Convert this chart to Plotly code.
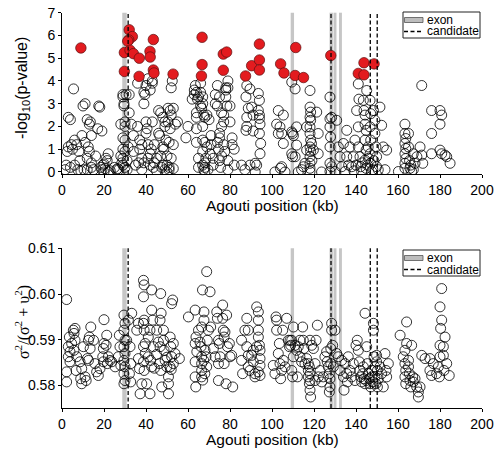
import plotly.graph_objects as go

# exon spans (kb) and candidate sites (kb)
exon_start = [28.7, 108.9, 127.4, 129.3, 131.9]
exon_end = [30.8, 110.5, 129.0, 130.7, 133.3]
candidates = [31.5, 128.1, 146.8, 150.1]

# top panel: -log10(p-value), significant sites
sig_x = [9, 29.7, 29.7, 32, 33.5, 31.8, 31.3, 32.4, 34, 36.8, 36.7, 41.9, 42, 43.5, 43.5,
         43.8, 52.9, 66.7, 66.7, 66.4, 76.8, 76.8, 78.4, 87.4, 90.3, 94, 94, 94, 104.1,
         105.7, 111.3, 111, 115, 128, 141.1, 143.8, 143.8, 148.6]
sig_y = [5.45, 5.25, 4.42, 6.25, 5.95, 5.8, 5.75, 5.35, 5.2, 5.0, 4.2, 5.3, 5.05, 5.82, 4.48,
         4.35, 4.3, 5.92, 4.72, 4.22, 4.47, 5.18, 5.27, 4.22, 4.67, 5.62, 4.92, 4.48, 4.75,
         4.35, 5.47, 4.24, 4.15, 5.12, 4.33, 4.27, 4.8, 4.75]

# top panel: other sites (kb, -log10 p)
pval_pts = [
    (1.5, 0.1), (2, 0.3), (2.5, 0.9), (3, 1.1), (3, 2.4), (4, 2.3), (4, 0.2), (4.5, 1.2), (5, 1.0),
    (5.5, 3.65), (6, 1.4), (6, 0.3), (7, 1.2), (7.5, 0.1), (8, 0.9), (8.5, 0.5), (9, 0.05), (9.5, 1.6),
    (10, 2.9), (10.5, 0.1), (11, 3.0), (11, 1.3), (12, 0.6), (12, 2.3), (13, 2.1), (13, 0.9),
    (13.5, 2.2), (14, 1.6), (14, 0.4), (14, 0.2), (12.5, 1.1), (12, 0.1), (15, 0.1), (16, 0.7),
    (17, 1.9), (17.5, 2.9), (18, 2.85), (19, 1.8), (18.5, 0.2), (19, 0.1), (19.5, 0.3), (20, 0.35),
    (20, 0.0), (20.5, 0.15), (21, 0.6), (21.5, 0.5), (22, 0.8), (22, 0.0), (23, 0.05), (25, 0.2),
    (26, 0.1), (26.5, 0.15), (27, 0.1),
    (29, 3.4), (29, 3.3), (29.5, 2.9), (30, 2.2), (28, 2.1), (29, 1.5), (29, 1.0), (30, 0.9),
    (29, 0.6), (28.5, 0.4), (30, 0.2), (28, 0.7), (29.5, 3.0), (30.5, 3.4), (30, 2.0), (31, 0.1),
    (31.5, 1.1), (32, 2.6), (32, 3.4), (30, 1.4), (29, 0.3), (31, 0.5),
    (33, 2.1), (34, 1.6), (34, 0.9), (35, 0.3), (36, 3.9), (36, 2.0), (37, 1.4), (37, 1.0),
    (36.5, 0.4), (38, 0.1), (38, 1.2), (39, 3.0), (39, 3.5), (39.5, 3.4), (40, 3.8), (40, 2.2),
    (40, 1.7), (40.5, 1.9), (41, 4.1), (41, 0.6), (41, 1.2), (42, 0.3), (42, 0.8), (42, 3.6),
    (42.5, 1.0), (43, 4.0), (43, 3.9), (43, 2.2), (43.5, 0.2), (44, 0.4), (44, 1.2), (45, 0.05),
    (45, 0.6), (38, 0.6), (39, 0.4),
    (46, 2.7), (46, 1.7), (46.5, 1.6), (47, 2.6), (47, 0.7), (47.5, 0.2), (48, 0.3), (48, 1.1),
    (48, 2.4), (49, 2.0), (49, 2.2), (49, 0.1), (50, 0.0), (50, 0.3), (50.5, 2.2), (50.5, 2.8),
    (51, 1.3), (51, 0.1), (51, 0.2), (51.5, 1.9), (52, 2.5), (52, 0.6), (52, 3.7), (52.5, 4.0),
    (53, 2.8), (53, 1.2), (53, 0.15), (51.5, 2.7), (54, 2.1), (55, 2.2), (50, 0.7), (49.5, 1.4),
    (48.5, 1.0),
    (59, 1.5), (60, 2.0), (62, 3.2), (63, 3.4), (63, 3.6), (63.5, 3.8), (64, 3.5), (64, 2.6),
    (64, 2.4), (64.5, 3.2), (65, 3.3), (64, 1.9), (64, 1.3), (65, 0.6), (65, 0.2), (66, 3.9),
    (66, 3.5), (66, 2.9), (66.5, 2.8), (67, 3.3), (67, 3.0), (67.5, 2.5), (67, 2.0), (67, 1.4),
    (67, 0.9), (67, 0.3), (67.5, 0.1), (68, 0.2), (68, 0.4), (68, 0.0), (68.5, 0.6), (68, 1.3),
    (68, 2.4), (69, 2.5), (69, 1.1), (69.5, 0.1), (70, 2.3), (70.5, 0.8), (71, 1.2), (72, 0.6),
    (72, 0.3), (71, 1.6),
    (73, 3.4), (73, 3.0), (74, 3.8), (74, 2.9), (75, 3.3), (75, 1.5), (75, 1.7), (74, 1.3),
    (74.5, 1.0), (75, 0.5), (75.5, 0.2), (76, 0.7), (76, 2.6), (77, 2.5), (77, 2.2), (77, 1.2),
    (77.5, 0.9), (78, 3.7), (78, 3.6), (78, 3.3), (78.5, 2.9), (79, 4.0), (79, 3.7), (79, 0.5),
    (79, 0.1), (80, 2.9), (81, 1.2), (81, 1.5), (82, 0.3), (82, 1.0), (80, 2.2), (76, 2.0),
    (88, 3.8), (89.5, 3.65), (87.6, 3.3), (88.7, 2.8), (88, 2.4), (88, 2.0), (87.6, 1.83),
    (90.3, 2.85), (91, 2.5), (91, 1.8), (93.5, 3.45), (94, 3.15), (93.5, 2.7), (94, 2.5),
    (94, 2.35), (94.3, 2.1), (94, 1.69), (94.6, 1.25), (94.3, 0.8), (92, 0.38), (92, 0.0),
    (92.7, 0.3), (89.5, 0.3), (87.1, 0.1), (85.5, 0.3),
    (101.4, 0.0), (102.2, 2.1), (103, 1.69), (103, 2.7), (103.8, 1.98), (105.4, 2.5), (104.6, 1.69),
    (105.4, 1.25), (104.6, 0.23), (106.2, 0.0), (104, 0.16),
    (109.4, 1.76), (109.8, 1.69), (110.2, 1.6), (109.4, 0.8), (109.8, 0.67), (111, 0.67),
    (109.4, 3.95), (111, 3.65), (111.7, 1.98), (112.5, 0.0), (114.1, 0.1), (115, 0.23), (111.7, 1.18),
    (118.1, 3.58), (118.1, 2.85), (118.4, 2.63), (118.1, 2.4), (118.4, 2.27), (118.1, 1.98),
    (118.1, 1.69), (118.4, 1.4), (118.1, 1.1), (118.4, 0.9), (118.1, 0.67), (118.1, 0.38),
    (118.1, 0.16), (118.1, 0.02), (116.5, 0.96), (119.7, 0.96), (121.3, 2.63), (122, 1.69),
    (122, 0.8), (123.6, 0.0), (115.7, 0.38), (116.5, 1.98), (119, 0.5), (118.8, 1.25),
    (127.6, 3.29), (127.6, 2.34), (128.4, 2.4), (127.6, 1.98), (127.9, 1.54), (127.6, 1.1),
    (127.6, 0.38), (128.4, 0.23), (127.6, 0.02), (130, 0.02), (130.8, 2.27), (131.6, 1.1),
    (132.4, 0.67), (133.2, 0.23), (134, 1.25), (134.8, 0.02), (135.6, 0.67), (135.6, 1.83),
    (137.1, 1.1), (138, 0.23), (138.7, 0.67), (139.5, 1.4), (140.3, 2.7), (141.1, 3.87),
    (141.4, 3.2), (141.1, 1.98), (141.1, 1.1), (141.9, 0.67), (142.2, 0.23), (142.7, 0.02),
    (143.5, 3.15), (143.8, 2.7), (144.3, 2.5), (144.3, 2.1), (144.8, 1.83), (144.3, 1.4),
    (144.8, 0.96), (144.3, 0.52), (144.8, 0.16), (145.1, 3.58), (146.7, 3.15), (147, 2.56),
    (146.7, 1.98), (147, 1.4), (146.7, 0.8), (147, 0.38), (147.5, 0.02), (148.3, 2.7), (149, 2.27),
    (149, 1.69), (149.5, 1.1), (149.8, 0.67), (149.8, 0.23), (150.6, 0.1), (151.4, 2.85),
    (152.2, 2.05), (153, 1.1), (153.8, 0.1), (154.6, 0.96), (145.5, 0.3), (146, 0.6), (148, 0.1),
    (143, 0.4), (140, 0.3), (145.8, 1.1), (148.5, 0.5), (136.5, 0.3), (139, 0.05),
    (160.2, 0.02), (163.3, 2.1), (163.3, 1.69), (163.7, 1.47), (163.3, 1.25), (163.7, 1.03),
    (163.3, 0.8), (163.7, 0.59), (163.3, 0.38), (163.3, 0.16), (165, 1.69), (165, 1.1),
    (165.7, 0.16), (166.5, 0.02), (167.3, 0.1), (168.1, 0.38), (167.3, 0.8), (169, 0.67),
    (170.5, 1.1), (171.3, 0.74), (171.3, 3.8), (171.8, 0.38), (176, 2.7), (176, 1.69), (176, 0.8),
    (180, 2.7), (180.8, 2.5), (180, 2.1), (180, 0.96), (180.8, 0.8), (182.4, 0.74), (183.2, 0.67),
    (184.8, 0.38), (165.5, 0.5), (166, 0.3),
]

# bottom panel: sigma^2/(sigma^2 + upsilon^2)
ratio_pts = [
    (2.2, 0.5988), (2.2, 0.5808), (2.2, 0.583), (3, 0.5863), (3, 0.5885), (3.5, 0.5906),
    (3.8, 0.5852), (3.8, 0.5874), (4.6, 0.5892), (5.4, 0.5921), (5.7, 0.5914), (6.2, 0.5925),
    (6.2, 0.5899), (5.7, 0.5877), (7, 0.5863), (6.7, 0.5833), (8.6, 0.5852), (8.9, 0.5815),
    (9.4, 0.5804), (9.4, 0.5837), (10.2, 0.5885), (11, 0.5819), (11.5, 0.5811), (12.1, 0.5859),
    (12.6, 0.5899), (13, 0.5906), (13.4, 0.5881), (12.6, 0.5855), (13.7, 0.5928), (15, 0.5899),
    (15.7, 0.5848), (16.5, 0.583), (17.3, 0.5822), (18.1, 0.5837), (19.4, 0.5863), (19.7, 0.5881),
    (20, 0.5892), (19.7, 0.5852), (20, 0.5944), (21, 0.5888), (21.3, 0.591), (21.6, 0.5848),
    (22.1, 0.5863), (22.9, 0.5855), (23.7, 0.5852), (25.3, 0.5841), (26.8, 0.5863), (27.6, 0.5885),
    (28, 0.5844), (27.3, 0.591),
    (29.5, 0.5954), (30, 0.5936), (29.5, 0.5921), (30, 0.5899), (29.5, 0.5885), (30, 0.587),
    (29.5, 0.5855), (30, 0.5841), (29.5, 0.5826), (30, 0.5811), (29.5, 0.5804), (30.8, 0.5899),
    (31.6, 0.5943), (32.4, 0.5885), (32.7, 0.5848), (33.2, 0.5958), (32.1, 0.5826), (32.7, 0.5808),
    (35.6, 0.5921), (36.4, 0.5936), (36.4, 0.5859), (36.9, 0.5837), (37.2, 0.5782), (38, 0.5804),
    (38.8, 0.603), (39.1, 0.602), (38.8, 0.5994), (39.1, 0.5943), (38.8, 0.5936), (39.1, 0.5921),
    (39.6, 0.5892), (38.8, 0.5885), (39.6, 0.587), (38.8, 0.5852), (39.1, 0.5833), (40.3, 0.5804),
    (41.1, 0.5863), (41.1, 0.5906), (41.9, 0.5921), (42.7, 0.6009), (42.7, 0.5965), (43.2, 0.5943),
    (43.5, 0.5885), (42.2, 0.5855), (42.7, 0.5841), (41.9, 0.5782), (45.1, 0.5921), (45.9, 0.5895),
    (46.7, 0.5885), (47, 0.6001), (47.2, 0.5958), (46.7, 0.5943), (46.4, 0.5848), (47, 0.5833),
    (47.5, 0.5797), (48.3, 0.5921), (48.3, 0.5899), (48.6, 0.5877), (49.1, 0.5855), (49.9, 0.5841),
    (50.7, 0.5819), (50.7, 0.5804), (50.7, 0.5782), (51.5, 0.5906), (51.8, 0.5885), (52.2, 0.5863),
    (52.2, 0.5979), (52.7, 0.5987), (53, 0.5892), (53, 0.5848), (53.8, 0.587), (51.5, 0.5841),
    (55.9, 0.5859), (44, 0.5838), (45, 0.5868), (50, 0.5862), (52, 0.5835),
    (60.2, 0.595), (63.4, 0.5965), (63.4, 0.5892), (63.8, 0.5906), (64.2, 0.5874), (63.4, 0.5852),
    (63.4, 0.5819), (63.7, 0.5797), (65, 0.5921), (65.7, 0.5895), (66.5, 0.5928), (66.2, 0.5885),
    (66.5, 0.5863), (66.5, 0.5848), (66.5, 0.5833), (66.5, 0.5819), (66.9, 0.6009), (67.6, 0.5961),
    (67.6, 0.5943), (68.1, 0.5877), (68.6, 0.5863), (68.9, 0.5841), (68.9, 0.6049), (70.5, 0.6005),
    (69.2, 0.5899), (69.7, 0.5921), (70.8, 0.5928), (72.1, 0.5881), (72.9, 0.5863), (73.7, 0.5961),
    (74, 0.5947), (74.5, 0.5899), (74.5, 0.5848), (74.9, 0.5892), (75.3, 0.5863), (74.5, 0.5811),
    (76.5, 0.5976), (76.5, 0.5947), (76.8, 0.5921), (77.2, 0.5906), (77.6, 0.5917), (77.2, 0.5848),
    (78.1, 0.5804), (78.4, 0.5954), (78.8, 0.5885), (80, 0.5863), (80.8, 0.5866), (81.3, 0.5797),
    (79.7, 0.5892), (67.5, 0.5855), (68, 0.5826), (67, 0.5812),
    (85.5, 0.5899), (85.5, 0.5855), (86, 0.5826), (87.1, 0.5921), (88, 0.5947), (88.7, 0.5921),
    (88, 0.5885), (88.7, 0.5866), (88.7, 0.5841), (89.5, 0.5833), (90.3, 0.5866), (91.1, 0.5877),
    (91.1, 0.5852), (91.9, 0.5826), (91.9, 0.5819), (92.7, 0.5972), (93.5, 0.5961), (93.5, 0.5943),
    (93.5, 0.5921), (93.5, 0.5906), (94, 0.5888), (94.3, 0.5877), (94.3, 0.5859), (94.3, 0.5844),
    (93.5, 0.583), (94.3, 0.5822), (92.7, 0.5885),
    (100.6, 0.5844), (101.4, 0.5826), (101.9, 0.595), (102.2, 0.5921), (102.2, 0.5943),
    (103, 0.587), (103.5, 0.5892), (103.8, 0.5848), (104.1, 0.5815), (104.6, 0.5833),
    (105.1, 0.5921), (105.4, 0.5855), (106.2, 0.5841), (107, 0.5947), (107.8, 0.5899),
    (108.3, 0.5885), (108.6, 0.5899), (108.9, 0.5888), (109.4, 0.5899), (109.4, 0.5833),
    (109.8, 0.5819), (110.2, 0.5928), (110.2, 0.5863), (111, 0.5888), (111.7, 0.5877),
    (112.1, 0.5819), (112.5, 0.5885), (113.3, 0.5899), (113.3, 0.5863), (114.1, 0.5852),
    (114.6, 0.5928), (114.9, 0.5899), (115.2, 0.5881), (115.7, 0.5848), (116.5, 0.5859),
    (117.3, 0.5848), (117.8, 0.5841), (117.3, 0.5833), (118.1, 0.5826), (117.3, 0.5819),
    (118.1, 0.5811), (117.8, 0.5804), (118.1, 0.579), (118.4, 0.5775), (118.1, 0.5899),
    (118.9, 0.5888), (119.7, 0.5881), (120.5, 0.5848), (121, 0.5899), (121.6, 0.5932),
    (120.5, 0.5811), (122.1, 0.5819), (122.9, 0.5833), (123.7, 0.5808), (124.4, 0.5819),
    (125.2, 0.5863), (126, 0.5874), (126.3, 0.5852), (126.8, 0.5841), (127.3, 0.5826),
    (127.6, 0.5815), (127.6, 0.5797), (127.3, 0.5786), (128, 0.5848), (128, 0.5881),
    (128.4, 0.5921), (128.4, 0.5936), (128.9, 0.5888), (129.2, 0.5841), (130, 0.5921),
    (130.8, 0.587), (131.6, 0.5863), (132.4, 0.5833), (133.2, 0.5855), (134, 0.5819),
    (134.3, 0.579), (134.8, 0.5848), (135.6, 0.5826), (135.9, 0.5808), (136.3, 0.5863),
    (137.1, 0.5833), (137.9, 0.5819), (138.7, 0.5848), (139.5, 0.5811), (140, 0.5888),
    (140.6, 0.5899), (141.1, 0.5877), (141.6, 0.5852), (141.9, 0.5833), (142.2, 0.5819),
    (142.7, 0.5808), (143.2, 0.5826), (143.5, 0.5841), (143.8, 0.5815), (144.3, 0.5804),
    (144.8, 0.5811), (144.3, 0.5958), (145.1, 0.5885), (145.4, 0.5848), (145.9, 0.5826),
    (146.4, 0.5815), (146.7, 0.5804), (147, 0.5797), (147.5, 0.5819), (147.5, 0.5833),
    (148, 0.5808), (148.3, 0.5936), (148.3, 0.5921), (148.6, 0.5863), (149, 0.5841),
    (149, 0.5819), (149.5, 0.5804), (149.8, 0.5866), (149.8, 0.5852), (150.2, 0.5833),
    (150.2, 0.5797), (150.6, 0.5815), (151.4, 0.5841), (152.2, 0.5826), (153, 0.5797),
    (153.8, 0.587), (154.3, 0.5833), (154.6, 0.5819), (155.4, 0.5848),
    (161, 0.591), (162.5, 0.5863), (163.3, 0.5877), (163.3, 0.5848), (163.7, 0.5833),
    (163.3, 0.5819), (163.7, 0.5804), (164.1, 0.5939), (164.1, 0.5892), (165, 0.5855),
    (165, 0.5841), (165.4, 0.5826), (165.7, 0.5811), (166.1, 0.5797), (166.5, 0.5888),
    (167, 0.5819), (167.3, 0.5808), (168.1, 0.5815), (168.9, 0.5797), (169.7, 0.5775),
    (169.7, 0.5786), (170.5, 0.5797), (171.3, 0.5866), (172.9, 0.5859), (175.2, 0.5859),
    (175.2, 0.5833), (176, 0.5822), (176.8, 0.5848), (178.4, 0.5826), (179.2, 0.5841),
    (179.7, 0.5819), (180, 0.5863), (180, 0.5888), (180.3, 0.5925), (180.8, 0.5943),
    (180, 0.5972), (180.8, 0.6012), (181.6, 0.5885), (181.9, 0.5833), (182.4, 0.5906),
    (183.2, 0.5848), (184.4, 0.5822), (181.6, 0.5866),
]

x_ticks = [0, 20, 40, 60, 80, 100, 120, 140, 160, 180, 200]
legend_labels = ['exon', 'candidate']
grey = '#c6c6c6'
fnt = 'Liberation Sans, Arial, sans-serif'
dash = '4px,2.5px'

W, H = 494, 450
ML, MT = 62, 12          # plot area = 420 x 396 px


def px(p):
    # screenshot x pixel -> paper x
    return (p - ML) / 420


def py(p):
    # screenshot y pixel -> paper y
    return (396 - (p - MT)) / 396


fig = go.Figure()

open_marker = dict(symbol='circle-open', size=10, color='black', line=dict(width=0.8))
fig.add_trace(go.Scatter(x=[p[0] for p in pval_pts], y=[p[1] for p in pval_pts], mode='markers',
                         marker=open_marker, showlegend=False, xaxis='x', yaxis='y'))
fig.add_trace(go.Scatter(x=sig_x, y=sig_y, mode='markers',
                         marker=dict(symbol='circle', size=10.5, color='#e31b1f',
                                     line=dict(color='#5a1010', width=0.7)),
                         showlegend=False, xaxis='x', yaxis='y'))
fig.add_trace(go.Scatter(x=[p[0] for p in ratio_pts], y=[p[1] for p in ratio_pts], mode='markers',
                         marker=open_marker, showlegend=False, xaxis='x2', yaxis='y2'))

# exon bars and candidate lines in both panels
shapes = []
for xr, yr in [('x', 'y domain'), ('x2', 'y2 domain')]:
    for s, e in zip(exon_start, exon_end):
        shapes.append(dict(type='rect', xref=xr, yref=yr, x0=s, x1=e, y0=0, y1=1,
                           fillcolor=grey, line=dict(width=0), layer='below'))
    for c in candidates:
        shapes.append(dict(type='line', xref=xr, yref=yr, x0=c, x1=c, y0=0, y1=1,
                           line=dict(color='black', width=1.3, dash=dash)))

# hand drawn legend boxes
annotations = []
for top_px in [12, 250]:
    shapes.append(dict(type='rect', xref='paper', yref='paper', x0=px(403), x1=px(480),
                       y0=py(top_px + 26), y1=py(top_px), fillcolor='white',
                       line=dict(color='#222222', width=1)))
    shapes.append(dict(type='rect', xref='paper', yref='paper', x0=px(404.5), x1=px(423),
                       y0=py(top_px + 10.5), y1=py(top_px + 5.5), fillcolor='#bdbdbd',
                       line=dict(color='#555555', width=0.8)))
    shapes.append(dict(type='line', xref='paper', yref='paper', x0=px(404), x1=px(423),
                       y0=py(top_px + 19.5), y1=py(top_px + 19.5),
                       line=dict(color='black', width=1.3, dash=dash)))
    for lab, dy in zip(legend_labels, [8, 19.5]):
        annotations.append(dict(text=lab, xref='paper', yref='paper', x=px(425), y=py(top_px + dy),
                                xanchor='left', yanchor='middle', showarrow=False,
                                font=dict(family=fnt, size=12, color='black')))

# axis titles
title_font = dict(family=fnt, size=15.5, color='black')
annotations += [
    dict(text='-log<sub>10</sub>(p-value)', xref='paper', yref='paper', x=px(22), y=py(88),
         textangle=-90, showarrow=False, font=dict(family=fnt, size=16, color='black'),
         xanchor='center', yanchor='middle'),
    dict(text='σ<sup>2</sup>/(σ<sup>2</sup> + υ<sup>2</sup>)', xref='paper', yref='paper',
         x=px(22), y=py(322), textangle=-90, showarrow=False,
         font=dict(family='Liberation Serif, Times New Roman, serif', size=16, color='black'),
         xanchor='center', yanchor='middle'),
    dict(text='Agouti position (kb)', xref='paper', yref='paper', x=0.5, y=py(205.5),
         showarrow=False, font=title_font, xanchor='center', yanchor='middle'),
    dict(text='Agouti position (kb)', xref='paper', yref='paper', x=0.5, y=py(439.5),
         showarrow=False, font=title_font, xanchor='center', yanchor='middle'),
]

axis_common = dict(showline=True, linecolor='black', linewidth=1, ticks='outside', ticklen=3,
                   tickcolor='black', showgrid=False, zeroline=False, automargin=False,
                   ticklabeloverflow='allow',
                   tickfont=dict(family=fnt, size=14, color='black'))

fig.update_layout(
    width=W, height=H,
    margin=dict(l=ML, r=W - ML - 420, t=MT, b=H - MT - 396),
    plot_bgcolor='white', paper_bgcolor='white',
    showlegend=False,
    shapes=shapes, annotations=annotations,
    xaxis=dict(axis_common, range=[0, 200], tickvals=x_ticks, domain=[0, 1], anchor='y'),
    yaxis=dict(axis_common, range=[-0.09, 7], tickvals=[0, 1, 2, 3, 4, 5, 6, 7],
               domain=[py(174), py(12.7)], anchor='x'),
    xaxis2=dict(axis_common, range=[0, 200], tickvals=x_ticks, domain=[0, 1], anchor='y2'),
    yaxis2=dict(axis_common, range=[0.5751, 0.61], tickvals=[0.58, 0.59, 0.60, 0.61],
                tickformat='.2f', domain=[0, py(248.3)], anchor='x2'),
)

# the page has a default 8px body margin; drop it so the figure fills the window
fig.write_html('out.html', config={'displayModeBar': False},
               post_script="document.body.style.margin='0px';")
